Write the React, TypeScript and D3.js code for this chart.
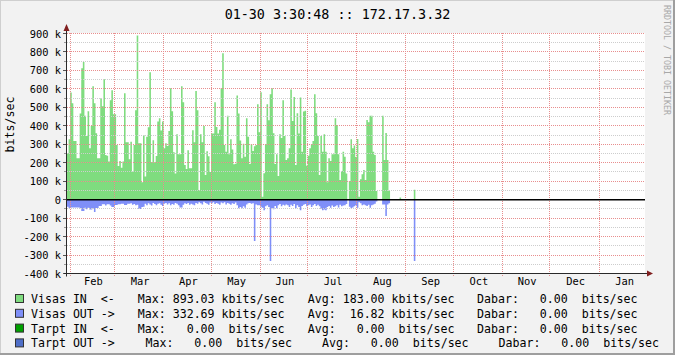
import React from 'react';
import * as d3 from 'd3';

// ---------- data (kbits/sec, one value per day starting 30 Jan) ----------
const startDate = new Date(2014, 0, 30);
const endDate = new Date(2015, 0, 30);

const visasIn: (number | null)[] = [
  // Jan 30 – Mar 11
  251, 327, 580, 522, 318, 318, 224, 224, 466, 712, 746, 455, 345, 479, 278, 399, 614, 522, 360, 224,
  224, 549, 506, 652, 242, 238, 206, 538, 592, 463, 463, 296, 182, 210, 173, 206, 576, 311, 311, 219,
  314, 152,
  // Mar 12 – Apr 19
  296, 484, 889, 305, 305, 94, 349, 125, 341, 392, 690, 202, 322, 202, 237, 423, 441, 374, 423, 278,
  305, 291, 372, 603, 479, 257, 141, 354, 246, 246, 614, 528, 188, 166, 267, 170, 170, 376, 311,
  // Apr 20 – May 29
  589, 484, 52, 354, 311, 399, 134, 262, 235, 150, 358, 358, 528, 394, 358, 378, 603, 793, 296, 260,
  455, 246, 327, 271, 192, 195, 564, 466, 320, 224, 303, 233, 441, 341, 193, 300, 264, 289, 296, 517,
  // May 30 – Jul 9
  365, 582, 16, 143, 300, 517, 430, 571, 603, 360, 193, 246, 128, 354, 334, 538, 345, 215, 224, 278,
  596, 426, 556, 188, 468, 358, 553, 260, 477, 481, 184, 238, 278, 300, 318, 571, 468, 345, 134, 345,
  260,
  // Jul 10 – Sep 6
  354, 260, 94, 224, 210, 246, 246, 441, 405, 246, 107, 155, 260, 233, 141, 0, 101, 327, 278, 293,
  231, 329, 16, 110, 137, 161, 107, 432, 419, 455, 455, 260, 242, 47, null, null, null, 455, 215, 361,
  215, 47, null, null, null, null, null, null, 11, null, null, null, null, null, null, null, null, 54,
  null,
];

const visasOut: (number | null)[] = [
  38, 47, 42, 42, 42, 42, 42, 42, 47, 61, 61, 44, 52, 44, 54, 54, 47, 67, 45, 45,
  34, 34, 25, 25, 32, 25, 25, 32, 40, 40, 29, 29, 25, 25, 22, 22, 29, 29, 22, 22,
  20, 28,
  24, 30, 28, 50, 50, 40, 38, 22, 30, 20, 26, 32, 18, 24, 30, 22, 20, 28, 34, 22,
  18, 26, 20, 30, 24, 28, 18, 22, 30, 43, 43, 28, 20, 24, 18, 28, 22, 26, 30,
  18, 22, 14, 20, 26, 12, 18, 22, 28, 16, 20, 14, 24, 18, 22, 28, 16, 20, 14, 26,
  18, 22, 28, 20, 24, 16, 30, 47, 40, 47, 36, 44, 26, 20, 18, 22, 20, 224, 26, 30,
  30, 38, 44, 58, 36, 30, 40, 332, 46, 52, 34, 46, 30, 24, 36, 28, 32, 26, 30, 40,
  28, 34, 24, 46, 30, 40, 58, 34, 28, 24, 36, 30, 26, 40, 30, 24, 34, 28, 36, 50,
  58,
  54, 58, 40, 34, 44, 32, 40, 36, 30, 42, 28, 36, 32, 30, 24, 0, 38, 46, 42, 36,
  30, 44, 14, 20, 30, 26, 30, 34, 28, 44, 30, 26, 22, 10, null, null, null, 26, 26, 89,
  26, 20, null, null, null, null, null, null, null, null, null, null, null, null, null, null, null, 332,
  null,
];

const yTicks = [900, 800, 700, 600, 500, 400, 300, 200, 100, 0, -100, -200, -300, -400];
const monthNames = ['Feb', 'Mar', 'Apr', 'May', 'Jun', 'Jul', 'Aug', 'Sep', 'Oct', 'Nov', 'Dec', 'Jan'];

const legendNames = ['Visas IN  <-', 'Visas OUT ->', 'Tarpt IN  <-', 'Tarpt OUT ->'];
const legendColors = ['#7fdc7f', '#7f8ff8', '#00a000', '#4f6fc8'];
const legendMax = ['Max: 893.03 kbits/sec', 'Max: 332.69 kbits/sec', 'Max:   0.00  bits/sec', 'Max:   0.00  bits/sec'];
const legendAvg = ['Avg: 183.00 kbits/sec', 'Avg:  16.82 kbits/sec', 'Avg:   0.00  bits/sec', 'Avg:   0.00  bits/sec'];
const legendCur = ['Dabar:   0.00  bits/sec', 'Dabar:   0.00  bits/sec', 'Dabar:   0.00  bits/sec', 'Dabar:   0.00  bits/sec'];

const title = '01-30 3:30:48 :: 172.17.3.32';

// ---------- layout ----------
const W = 675, H = 355;
const X0 = 67, X1 = 645;
const YT = 33.5, YB = 273.5;
const MONO = '"DejaVu Sans Mono", monospace';
const MAJOR = '#e88e8e';
const MINOR = '#cdcdcd';

export default function App() {
  const x = d3.scaleTime().domain([startDate, endDate]).range([X0, X1]);
  const y = d3.scaleLinear().domain([-400, 900]).range([YB, YT]);
  const dayAt = (i: number) => d3.timeDay.offset(startDate, i);

  const stepPoints = (arr: (number | null)[], sign: number) => {
    const pts: { t: Date; v: number | null }[] = [];
    arr.forEach((v, i) => {
      const val = v == null ? null : sign * v;
      pts.push({ t: dayAt(i), v: val });
      pts.push({ t: dayAt(i + 1), v: val });
      if (v == null) pts.push({ t: dayAt(i + 1), v: null });
    });
    return pts;
  };

  const area = d3
    .area<{ t: Date; v: number | null }>()
    .defined((d) => d.v != null)
    .x((d) => x(d.t))
    .y0(() => y(0))
    .y1((d) => y(d.v as number));

  const inPath = area(stepPoints(visasIn, 1)) || '';
  const outPath = area(stepPoints(visasOut, -1)) || '';

  const crisp = (v: number) => Math.floor(v) + 0.5;

  const minorTicks = d3.range(-350, 900, 100);
  const months = d3.timeMonth.range(d3.timeMonth.ceil(startDate), endDate);

  return (
    <svg
      width={W}
      height={H}
      style={{ position: 'absolute', left: 0, top: 0, display: 'block' }}
      xmlns="http://www.w3.org/2000/svg"
    >
      <rect x={0} y={0} width={W} height={H} fill="#f2f2f2" />
      <line x1={0} y1={0.5} x2={W} y2={0.5} stroke="#cfcfcf" />
      <line x1={0.5} y1={0} x2={0.5} y2={H} stroke="#cfcfcf" />
      <line x1={0} y1={H - 1} x2={W} y2={H - 1} stroke="#9e9e9e" strokeWidth={2} />
      <line x1={W - 1} y1={0} x2={W - 1} y2={H} stroke="#9e9e9e" strokeWidth={2} />

      {/* canvas */}
      <rect x={X0} y={YT - 0.5} width={X1 - X0} height={YB - YT + 0.5} fill="#ffffff" />

      {/* data */}
      <path d={inPath} fill="#7fdc7f" />
      <path d={outPath} fill="#7f8ff8" />

      {/* minor grid */}
      {minorTicks.map((t) => (
        <line key={'mi' + t} x1={X0} x2={X1} y1={crisp(y(t))} y2={crisp(y(t))} stroke={MINOR} strokeDasharray="1,1" />
      ))}
      {minorTicks.map((t) => (
        <line key={'mit' + t} x1={64} x2={X0} y1={crisp(y(t))} y2={crisp(y(t))} stroke="#999" />
      ))}
      {/* major grid */}
      {yTicks.map((t) => (
        <line key={'ma' + t} x1={X0} x2={X1} y1={crisp(y(t))} y2={crisp(y(t))} stroke={MAJOR} strokeDasharray="1,1" />
      ))}
      {yTicks.map((t) => (
        <line key={'mat' + t} x1={63} x2={X0} y1={crisp(y(t))} y2={crisp(y(t))} stroke="#555" />
      ))}
      {months.map((m) => (
        <line key={'vm' + +m} x1={crisp(x(m))} x2={crisp(x(m))} y1={33} y2={277} stroke={MAJOR} strokeDasharray="1,1" />
      ))}

      {/* zero rule */}
      <line x1={X0} x2={X1} y1={y(0)} y2={y(0)} stroke="#000" strokeWidth={1.5} />

      {/* axes */}
      <line x1={X0 - 0.5} x2={X0 - 0.5} y1={26} y2={YB + 3} stroke="#2a2a2a" />
      <line x1={X0 - 3} x2={X1 + 3} y1={YB} y2={YB} stroke="#2a2a2a" />
      <path d={`M${X0 - 3.5},${31} L${X0 - 0.5},${24} L${X0 + 2.5},${31} Z`} fill="#801f1f" />
      <path d={`M${X1 + 2},${YB - 3} L${X1 + 8},${YB} L${X1 + 2},${YB + 3} Z`} fill="#801f1f" />

      {/* y labels */}
      {yTicks.map((t) => (
        <text key={'yl' + t} x={61} y={y(t) + 4} textAnchor="end" fontFamily={MONO} fontSize={10.4} fill="#000">
          {t === 0 ? '0' : `${t} k`}
        </text>
      ))}
      <text
        transform={`translate(14,${(YT + YB) / 2 - 29}) rotate(-90)`}
        textAnchor="middle"
        fontFamily={MONO}
        fontSize={11.6}
        fill="#000"
      >
        bits/sec
      </text>

      {/* x labels */}
      {months.map((m, i) => {
        const next = d3.timeMonth.offset(m, 1);
        const mid = new Date((+m + +next) / 2);
        return (
          <text key={'xl' + i} x={x(mid) + 1} y={285} textAnchor="middle" fontFamily={MONO} fontSize={10.4} fill="#000">
            {monthNames[i]}
          </text>
        );
      })}

      {/* title */}
      <text x={W / 2} y={18.5} textAnchor="middle" fontFamily={MONO} fontSize={13.4} fill="#000">
        {title}
      </text>

      {/* watermark */}
      <text
        transform="translate(664,5) rotate(90)"
        fontFamily={MONO}
        fontSize={8.3}
        fill="#a8a8a8"
      >
        RRDTOOL / TOBI OETIKER
      </text>

      {/* legend */}
      {legendNames.map((name, i) => {
        const by = 303 + i * 14.8;
        const off = i === 3 ? [145.5, 322, 498.5] : [137.8, 307.8, 477];
        return (
          <g key={'lg' + i} fontFamily={MONO} fontSize={11.6} fill="#000" style={{ whiteSpace: 'pre' }}>
            <rect x={15.5} y={by - 8.5} width={8} height={8} fill={legendColors[i]} stroke="#333" strokeWidth={1} />
            <text x={31} y={by} xmlSpace="preserve">{name}</text>
            <text x={off[0]} y={by} xmlSpace="preserve">{legendMax[i]}</text>
            <text x={off[1]} y={by} xmlSpace="preserve">{legendAvg[i]}</text>
            <text x={off[2]} y={by} xmlSpace="preserve">{legendCur[i]}</text>
          </g>
        );
      })}
    </svg>
  );
}
